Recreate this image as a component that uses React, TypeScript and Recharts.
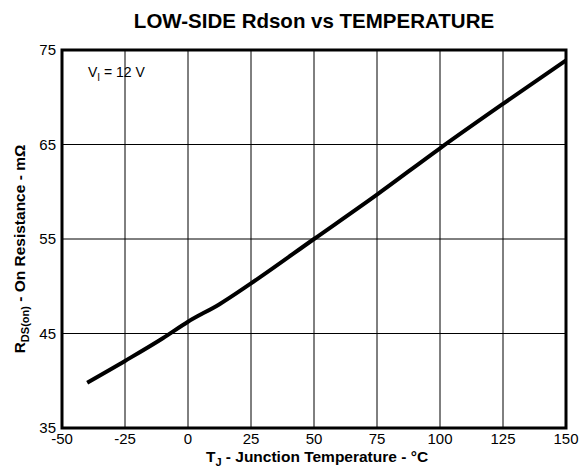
import React from 'react';
import { LineChart, Line, XAxis, YAxis, CartesianGrid, ReferenceArea } from 'recharts';

const temperatures = [-40, -25, -10, 0, 12.5, 25, 50, 75, 100, 125, 150];
const rdsOn = [39.8, 42.1, 44.5, 46.25, 48.1, 50.3, 55.0, 59.7, 64.6, 69.3, 73.9];
const xTicks = [-50, -25, 0, 25, 50, 75, 100, 125, 150];
const yTicks = [35, 45, 55, 65, 75];

const data = temperatures.map((t, i) => ({ t, r: rdsOn[i] }));

const FONT = '"Liberation Sans", Arial, Helvetica, sans-serif';

export default function App() {
  return (
    <div style={{ position: 'absolute', left: 0, top: 0, width: 579, height: 467, background: '#fff' }}>
      <LineChart
        width={579}
        height={467}
        data={data}
        margin={{ top: 50, right: 13, left: 0, bottom: 19 }}
      >
        <CartesianGrid stroke="#000" strokeWidth={1} />
        <XAxis
          dataKey="t"
          type="number"
          domain={[-50, 150]}
          ticks={xTicks}
          interval={0}
          height={20}
          axisLine={false}
          tickLine={false}
          tickSize={0}
          tickMargin={5}
          tick={{ fill: '#000', fontSize: 15, fontFamily: FONT }}
        />
        <YAxis
          type="number"
          domain={[35, 75]}
          ticks={yTicks}
          interval={0}
          width={62}
          axisLine={false}
          tickLine={false}
          tickSize={0}
          tickMargin={6}
          tick={{ fill: '#000', fontSize: 15, fontFamily: FONT }}
        />
        <ReferenceArea
          x1={-50}
          x2={150}
          y1={35}
          y2={75}
          fill="none"
          fillOpacity={0}
          stroke="#000"
          strokeWidth={3}
          ifOverflow="visible"
        />
        <Line
          type="monotone"
          dataKey="r"
          stroke="#000"
          strokeWidth={4}
          dot={false}
          isAnimationActive={false}
        />
      </LineChart>
      <svg
        width={579}
        height={467}
        style={{ position: 'absolute', left: 0, top: 0, pointerEvents: 'none' }}
        fontFamily={FONT}
      >
        <text x={314} y={28} textAnchor="middle" fontSize={20.5} fontWeight="bold" fill="#000">
          LOW-SIDE Rdson vs TEMPERATURE
        </text>
        <text x={88} y={77} fontSize={14} fill="#000">
          V<tspan fontSize={10} dy={4}>I</tspan>
          <tspan dy={-4}> = 12 V</tspan>
        </text>
        <text x={317} y={462} textAnchor="middle" fontSize={15.5} fontWeight="bold" fill="#000">
          T<tspan fontSize={11} dy={4}>J</tspan>
          <tspan dy={-4}> - Junction Temperature - °C</tspan>
        </text>
        <text
          x={0}
          y={0}
          transform="translate(25, 249) rotate(-90)"
          textAnchor="middle"
          fontSize={15.5}
          fontWeight="bold"
          fill="#000"
        >
          R<tspan fontSize={11} dy={4}>DS(on)</tspan>
          <tspan dy={-4}> - On Resistance - mΩ</tspan>
        </text>
      </svg>
    </div>
  );
}
